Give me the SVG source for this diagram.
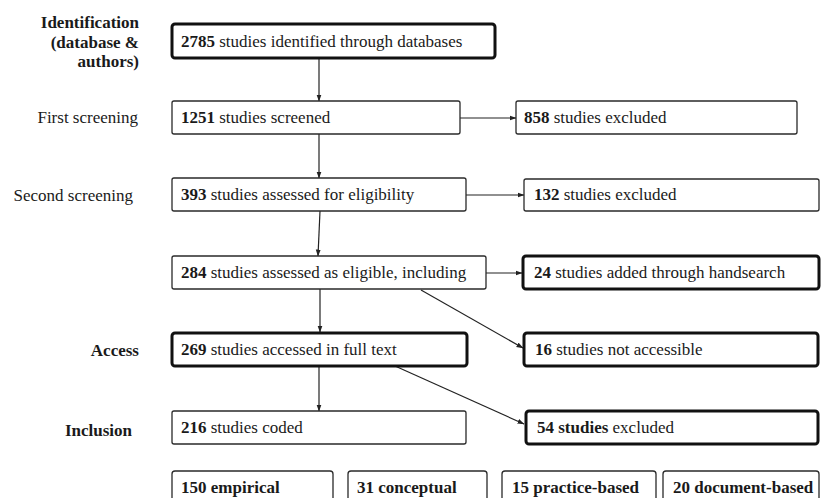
<svg xmlns="http://www.w3.org/2000/svg" width="824" height="498" viewBox="0 0 824 498">
<style>
  .b { font-weight: bold; }
  .lbl { text-anchor: end; }
  .box { fill: #fff; stroke: #2a2a2a; stroke-width: 1.3; }
  .thick { fill: #fff; stroke: #111; stroke-width: 3; }
  .con { stroke: #222; stroke-width: 1.2; fill: none; marker-end: url(#ah); }
</style>
<defs>
  <marker id="ah" markerUnits="userSpaceOnUse" markerWidth="7" markerHeight="6" refX="6.5" refY="3" orient="auto">
    <path d="M0,0.5 L7,3 L0,5.5 Z" fill="#222"/>
  </marker>
</defs>
<rect width="824" height="498" fill="#fff"/>
<g font-family="Liberation Serif, Times New Roman, serif" font-size="17" fill="#1a1a1a">
<g id="stage-labels">
  <text class="lbl b" x="139" y="28">Identification</text>
  <text class="lbl b" x="139" y="47.5">(database &amp;</text>
  <text class="lbl b" x="139" y="67">authors)</text>
  <text class="lbl" x="138" y="123">First screening</text>
  <text class="lbl" x="133" y="201">Second screening</text>
  <text class="lbl b" x="139" y="356">Access</text>
  <text class="lbl b" x="132" y="436">Inclusion</text>
</g>

<g id="connectors">
  <line class="con" x1="319" y1="58" x2="319" y2="101"/>
  <line class="con" x1="460" y1="118" x2="516" y2="118"/>
  <line class="con" x1="319" y1="134" x2="319" y2="178"/>
  <line class="con" x1="466" y1="195" x2="524" y2="195"/>
  <line class="con" x1="320" y1="211" x2="318" y2="256"/>
  <line class="con" x1="486" y1="273" x2="522" y2="273"/>
  <line class="con" x1="320" y1="289" x2="320" y2="332"/>
  <line class="con" x1="421" y1="290" x2="523" y2="348"/>
  <line class="con" x1="319" y1="366" x2="319" y2="411"/>
  <line class="con" x1="395" y1="366" x2="524" y2="424"/>
</g>

<g id="n2785">
  <rect class="thick" x="172" y="24" width="323" height="34" rx="3"/>
  <text x="181" y="47"><tspan class="b">2785</tspan> studies identified through databases</text>
</g>
<g id="n1251">
  <rect class="box" x="172" y="101" width="288" height="33" rx="2"/>
  <text x="181" y="123"><tspan class="b">1251</tspan> studies screened</text>
</g>
<g id="n858">
  <rect class="box" x="516" y="101" width="281" height="33" rx="2"/>
  <text x="524" y="123"><tspan class="b">858</tspan> studies excluded</text>
</g>
<g id="n393">
  <rect class="box" x="172" y="178" width="294" height="33" rx="2"/>
  <text x="181" y="200"><tspan class="b">393</tspan> studies assessed for eligibility</text>
</g>
<g id="n132">
  <rect class="box" x="524" y="179" width="295" height="32" rx="2"/>
  <text x="534" y="200"><tspan class="b">132</tspan> studies excluded</text>
</g>
<g id="n284">
  <rect class="box" x="172" y="256" width="314" height="33" rx="2"/>
  <text x="181" y="278"><tspan class="b">284</tspan> studies assessed as eligible, including</text>
</g>
<g id="n24">
  <rect class="thick" x="523" y="256" width="296" height="33" rx="3"/>
  <text x="534" y="278"><tspan class="b">24</tspan> studies added through handsearch</text>
</g>
<g id="n269">
  <rect class="thick" x="172" y="333" width="295" height="33" rx="3"/>
  <text x="181" y="355"><tspan class="b">269</tspan> studies accessed in full text</text>
</g>
<g id="n16">
  <rect class="thick" x="524" y="333" width="294" height="33" rx="3"/>
  <text x="535" y="355"><tspan class="b">16</tspan> studies not accessible</text>
</g>
<g id="n216">
  <rect class="box" x="172" y="411" width="294" height="33" rx="2"/>
  <text x="181" y="433"><tspan class="b">216</tspan> studies coded</text>
</g>
<g id="n54">
  <rect class="thick" x="526" y="411" width="292" height="33" rx="3"/>
  <text x="537" y="433"><tspan class="b">54 studies</tspan> excluded</text>
</g>
<g id="n150">
  <rect class="box" x="172" y="471" width="161" height="40" rx="3"/>
  <text class="b" x="181" y="493">150 empirical</text>
</g>
<g id="n31">
  <rect class="box" x="348" y="471" width="139" height="40" rx="3"/>
  <text class="b" x="357" y="493">31 conceptual</text>
</g>
<g id="n15">
  <rect class="box" x="502" y="471" width="154" height="40" rx="3"/>
  <text class="b" x="512" y="493">15 practice-based</text>
</g>
<g id="n20">
  <rect class="box" x="663" y="471" width="156" height="40" rx="3"/>
  <text class="b" x="673" y="493">20 document-based</text>
</g>
</g>
</svg>
